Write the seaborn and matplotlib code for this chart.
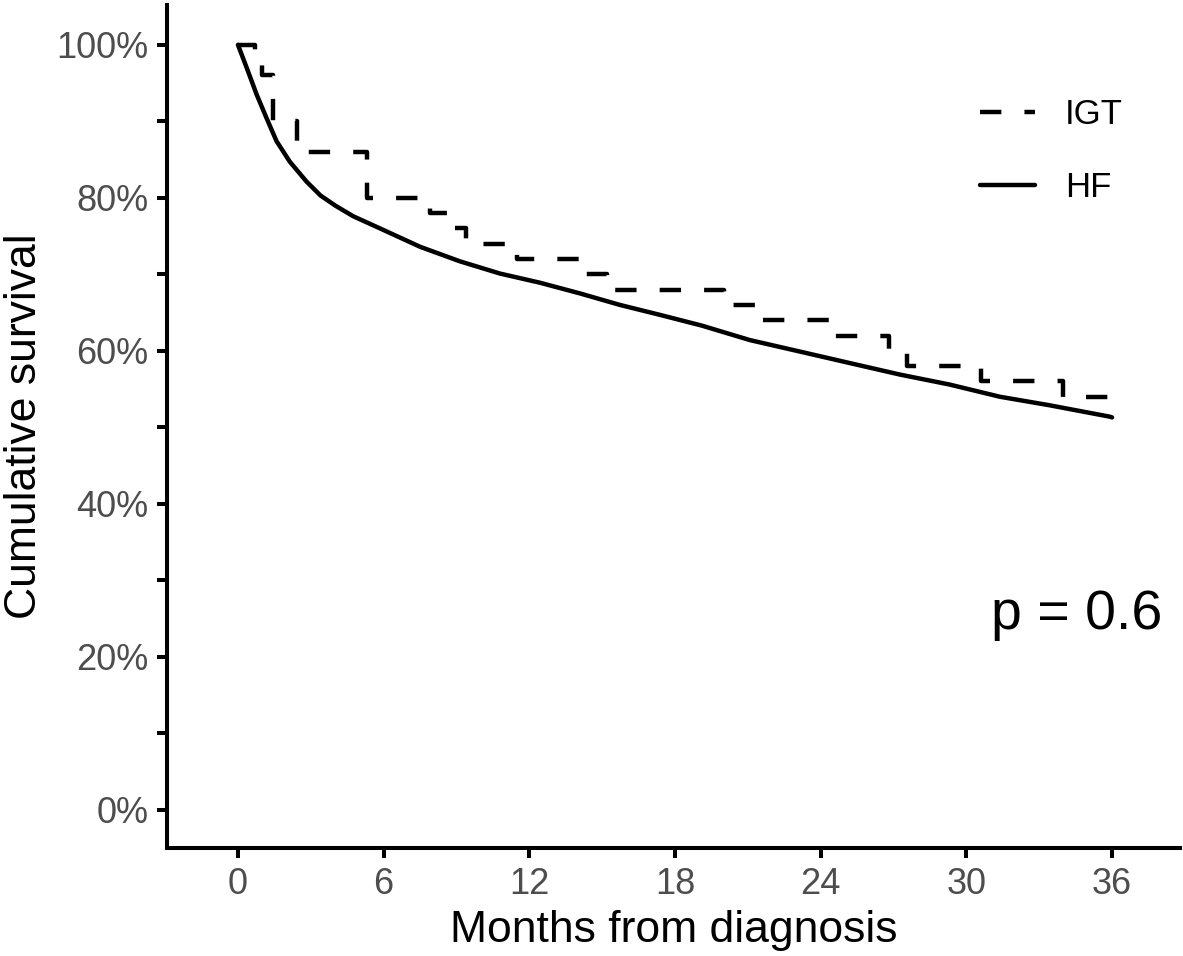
import numpy as np
import pandas as pd
import matplotlib
matplotlib.use("Agg")
import matplotlib.pyplot as plt
import seaborn as sns

# Kaplan-Meier curves (months, survival %)
igt_months = [0, 0.7, 1.0, 1.45, 2.43, 5.31, 7.9, 8.7, 9.4, 11.5, 14.2, 15.2,
              20.0, 21.6, 24.4, 26.8, 27.55, 30.6, 34.0, 36.0]
igt_surv = [100, 98, 96, 90, 86, 80, 78, 76, 74, 72, 70, 68,
            66, 64, 62, 60, 58, 56, 54, 54]

hf_months = [0, 0.36, 0.77, 1.18, 1.59, 2.14, 2.83, 3.4, 4.0, 4.74, 5.85, 7.5,
             9.14, 10.79, 12.44, 14.09, 15.73, 17.38, 19.1, 21.09, 23.15, 25.2,
             27.26, 29.3, 31.38, 33.4, 35.9, 36.0]
hf_surv = [100, 97, 93.5, 90.4, 87.4, 84.7, 82.1, 80.3, 79.0, 77.6, 76.0, 73.6,
           71.7, 70.1, 68.9, 67.5, 66.0, 64.7, 63.3, 61.4, 59.9, 58.4,
           56.9, 55.6, 54.0, 52.9, 51.4, 51.3]

x_ticks = [0, 6, 12, 18, 24, 30, 36]
y_ticks = [0, 10, 20, 30, 40, 50, 60, 70, 80, 90, 100]
y_labels = ["0%", "", "20%", "", "40%", "", "60%", "", "80%", "", "100%"]
p_text = "p = 0.6"

sns.set_theme(style="ticks")
plt.rcParams['font.family'] = ['Liberation Sans', 'DejaVu Sans']

df_igt = pd.DataFrame({'month': igt_months, 'surv': igt_surv})
df_hf = pd.DataFrame({'month': hf_months, 'surv': hf_surv})

fig = plt.figure(figsize=(11.83, 9.56), dpi=100)
ax = fig.add_axes([0.1412, 0.1130, 0.8563, 0.8818])

lw = 3.2
sns.lineplot(data=df_igt, x='month', y='surv', ax=ax, color='black',
             linewidth=lw, drawstyle='steps-post', estimator=None, sort=False,
             linestyle=(0, (4.8, 5.2)), label='IGT')
sns.lineplot(data=df_hf, x='month', y='surv', ax=ax, color='black',
             linewidth=lw, estimator=None, sort=False, label='HF')

ax.set_xlim(-2.92, 38.8)
ax.set_ylim(-4.97, 105.2)
ax.set_xticks(x_ticks)
ax.set_xticklabels([str(v) for v in x_ticks])
ax.set_yticks(y_ticks)
ax.set_yticklabels(y_labels)

for side in ['top', 'right']:
    ax.spines[side].set_visible(False)
for side in ['left', 'bottom']:
    ax.spines[side].set_linewidth(2.9)
    ax.spines[side].set_color('black')

ax.tick_params(axis='both', direction='out', length=7.5, width=2.9,
               color='black', labelsize=26, labelcolor='#4D4D4D', pad=6)

ax.set_xlabel('Months from diagnosis', fontsize=32, color='black', labelpad=6)
ax.set_ylabel('Cumulative survival', fontsize=32, color='black', labelpad=8)

ax.text(31.0, 25.5, p_text, fontsize=40, ha='left', va='center', color='black')

leg = ax.legend(loc='upper right', bbox_to_anchor=(0.957, 0.906), frameon=False,
                fontsize=25, handlelength=1.6, handletextpad=0.85,
                labelspacing=1.15, borderaxespad=0, labelcolor='black')

fig.savefig('out.png', dpi=100)
